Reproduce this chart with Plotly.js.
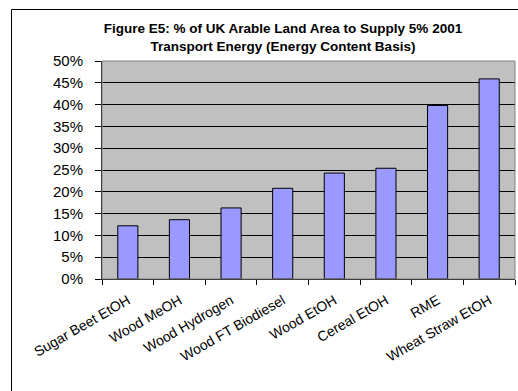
<!DOCTYPE html>
<html>
<head>
<meta charset="utf-8">
<script src="https://cdn.plot.ly/plotly-3.0.1.min.js"></script>
<style>
html,body{margin:0;padding:0;background:#fff;}
#chart{width:518px;height:391px;}
</style>
</head>
<body>
<div id="chart"></div>
<script>
const categories = ["Sugar Beet EtOH","Wood MeOH","Wood Hydrogen","Wood FT Biodiesel","Wood EtOH","Cereal EtOH","RME","Wheat Straw EtOH"];
const landShare = [0.122, 0.136, 0.163, 0.208, 0.243, 0.254, 0.398, 0.459];
const yTickVals = [0,0.05,0.10,0.15,0.20,0.25,0.30,0.35,0.40,0.45,0.50];
const yTickText = ["0%","5%","10%","15%","20%","25%","30%","35%","40%","45%","50%"];
const titleText = "Figure E5: % of UK Arable Land Area to Supply 5% 2001<br>Transport Energy (Energy Content Basis)";

const W = 518, H = 391;
const m = {l:102, r:3, t:61, b:112};
const pw = W - m.l - m.r, ph = H - m.t - m.b;
const px = v => (v - m.l) / pw;
const py = v => 1 - (v - m.t) / ph;

const trace = {
  type: "bar",
  x: categories,
  y: landShare,
  marker: {color: "#9999ff", line: {color: "#000000", width: 1}},
  hoverinfo: "none"
};

const layout = {
  width: W, height: H,
  margin: m,
  paper_bgcolor: "#ffffff",
  plot_bgcolor: "#c0c0c0",
  bargap: 0.61,
  showlegend: false,
  font: {family: "Liberation Sans, Arial, sans-serif", color: "#000"},
  title: {
    text: titleText,
    font: {family: "Liberation Sans, Arial, sans-serif", size: 13.5, color: "#000", weight: "bold"},
    x: px(283), xref: "paper", xanchor: "center",
    y: 1 - 33/H, yref: "container", yanchor: "middle"
  },
  xaxis: {
    type: "category",
    tickangle: -30,
    tickson: "boundaries",
    ticks: "outside", ticklen: 5, tickcolor: "#000", tickwidth: 1,
    showline: true, linecolor: "#000", linewidth: 1,
    showgrid: false,
    tickfont: {size: 14, family: "Liberation Sans, Arial, sans-serif"},
    ticklabelstandoff: 7,
    fixedrange: true
  },
  yaxis: {
    range: [0, 0.5],
    tickvals: yTickVals, ticktext: yTickText,
    ticks: "outside", ticklen: 6, tickcolor: "#000", tickwidth: 1,
    showline: true, linecolor: "#000", linewidth: 1,
    showgrid: true, gridcolor: "#000", gridwidth: 1,
    zeroline: false,
    tickfont: {size: 15, family: "Liberation Sans, Arial, sans-serif"},
    ticklabelstandoff: 9,
    fixedrange: true
  },
  shapes: [
    {type: "rect", xref: "paper", yref: "paper", x0: 0, x1: 1, y0: 0, y1: 1,
     line: {color: "#808080", width: 1}, fillcolor: "rgba(0,0,0,0)", layer: "above"},
    {type: "rect", xref: "paper", yref: "paper", x0: px(11.5), x1: px(560), y0: py(9.5), y1: py(440),
     line: {color: "#000", width: 1}, fillcolor: "rgba(0,0,0,0)"}
  ]
};

Plotly.newPlot("chart", [trace], layout, {displayModeBar: false, staticPlot: true});
</script>
</body>
</html>
